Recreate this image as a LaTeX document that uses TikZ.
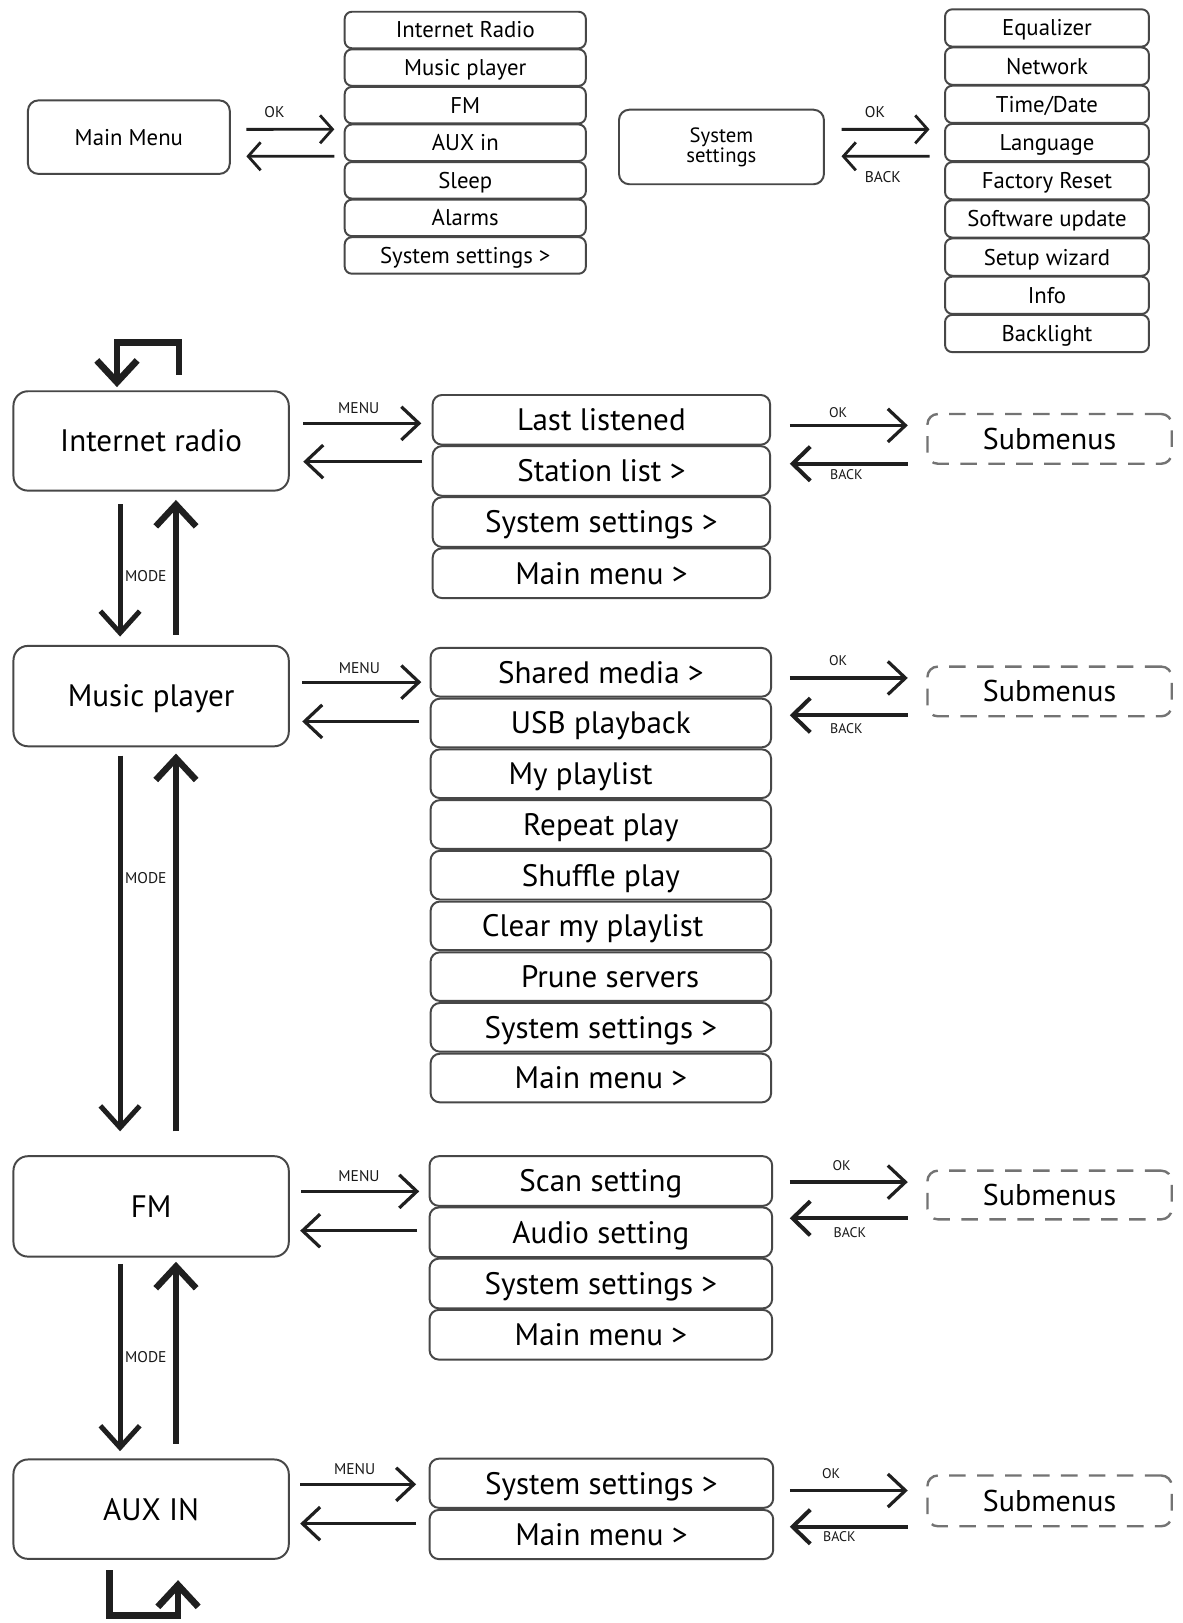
\documentclass[tikz,border=0pt]{standalone}
\usepackage{fontspec}
\setmainfont{PT Sans}
\usetikzlibrary{arrows.meta,calc}
\begin{document}
\begin{tikzpicture}[x=1pt,y=-1pt,
  box/.style={draw=black!72, line width=1.9pt, inner sep=0pt, outer sep=0pt, text=black, align=center},
  mainbox/.style={box, rounded corners=10pt, font=\fontsize{22}{24}\selectfont},
  topitem/.style={box, rounded corners=7pt, minimum height=35.3pt, font=\fontsize{22}{24}\selectfont, text height=15.4pt, text depth=0pt},
  big/.style={box, rounded corners=14pt, minimum width=266pt, font=\fontsize{30}{32}\selectfont, text height=21pt, text depth=0pt},
  row/.style={box, rounded corners=9pt, font=\fontsize{30}{32}\selectfont, text height=21pt, text depth=0pt},
  sub/.style={draw=black!55, dash pattern=on 16pt off 11pt, line width=2.3pt, rounded corners=10pt, minimum width=236pt, inner sep=0pt, outer sep=0pt, font=\fontsize{29}{31}\selectfont, text height=20.3pt, text depth=0pt, text=black},
  lbl/.style={font=\fontsize{15}{16}\selectfont, inner sep=0pt, text height=10.5pt, text depth=0pt, text=black!90},
  lblb/.style={font=\fontsize{13.5}{15}\selectfont, inner sep=0pt, text height=9.45pt, text depth=0pt, text=black!90},
  arrA/.style={draw=black!88, line width=2.7pt, -{Straight Barb[length=12pt,width=27pt]}},
  arrM/.style={draw=black!88, line width=3.1pt, -{Straight Barb[length=17pt,width=32pt]}},
  arrB/.style={draw=black!88, line width=3.9pt, -{Straight Barb[length=17pt,width=33pt]}},
  arrDown/.style={draw=black!88, line width=4.8pt, -{Straight Barb[length=21pt,width=38pt]}},
  arrUp/.style={draw=black!88, line width=6.2pt, -{Straight Barb[length=21pt,width=39pt]}},
  loopA/.style={draw=black!88, line width=6.5pt, line join=miter, -{Straight Barb[length=21pt,width=39pt]}}
]
\fill[white] (0,0) rectangle (1142,1568);
\useasboundingbox (0,0) rectangle (1142,1568);

% ---------------- top section ----------------
\node[mainbox, minimum width=195pt, minimum height=71pt] (mm) at (124.5,132.5) {Main Menu};
\foreach \t [count=\i] in {Internet Radio, Music player, FM, AUX in, Sleep, Alarms, System settings >}
  \node[topitem, minimum width=233pt] (ca\i) at (449.5,{29+36.3*(\i-1)}) {\t};

\node[mainbox, minimum width=198pt, minimum height=72pt, font=\fontsize{20}{17.7}\selectfont] (ss) at (697,142) {System\\settings};
\foreach \t [count=\i] in {Equalizer, Network, Time/Date, Language, Factory Reset, Software update, Setup wizard, Info, Backlight}
  \node[topitem, minimum width=197pt, minimum height=36pt] (cb\i) at (1011.5,{27+36.9*(\i-1)}) {\t};

\draw[arrA] ($(mm.east)+(16,-7.5)$) -- node[lbl, above=10pt, pos=0.32]{OK} ($(ca4.west)+(-10,-13)$);
\draw[arrA] ($(ca4.west)+(-10,13)$) -- ($(mm.east)+(16,18.5)$);
\draw[arrA] ($(ss.east)+(17,-17)$) -- node[lbl, above=10pt, pos=0.38]{OK} ($(cb4.west)+(-15,-12.7)$);
\draw[arrA] ($(cb4.west)+(-15,13.3)$) -- node[lbl, below=13.7pt, pos=0.53]{BACK} ($(ss.east)+(17,9)$);

% ---------------- Internet radio ----------------
\node[big, minimum height=96pt] (ir) at (146,426) {Internet radio};
\foreach \t [count=\i] in {Last listened, Station list >, System settings >, Main menu >}
  \node[row, minimum width=326pt, minimum height=48pt] (ir\i) at (581,{405.6+49.4*(\i-1)}) {\t};
\node[sub, minimum height=48pt] (irs) at (1014,424) {Submenus};

\draw[arrM] ($(ir.east)+(14,-17)$) -- node[lbl, above=7.75pt, pos=0.47]{MENU} ($(ir1.west)+(-11,3.4)$);
\draw[arrM] ($(ir2.west)+(-10,-9)$) -- ($(ir.east)+(14,20)$);
\draw[arrM] ($(ir1.east)+(19,5.4)$) -- node[lblb, above=6.3pt, pos=0.41]{OK} ($(irs.west)+(-19,-13)$);
\draw[arrB] ($(irs.west)+(-19,24)$) -- node[lblb, below=4.3pt, pos=0.52]{BACK} ($(ir2.east)+(19,-7)$);
\draw[loopA] ($(ir.north)+(27,-16)$) |- ($(ir.north)+(-33,-47)$) -- ($(ir.north)+(-33,-4)$);

% ---------------- Music player ----------------
\node[big, minimum height=97pt] (mp) at (146,672.5) {Music player};
\foreach \t [count=\i] in {Shared media >, USB playback, My playlist\kern39pt, Repeat play, Shuffle play, Clear my playlist\kern16pt, \kern18pt Prune servers, System settings >, Main menu >}
  \node[row, minimum width=329pt, minimum height=47pt] (mp\i) at (580.5,{649.5+49*(\i-1)}) {\t};
\node[sub, minimum height=48pt] (mps) at (1014,668) {Submenus};

\draw[arrM] ($(mp.east)+(13,-13.5)$) -- node[lbl, above=6.75pt, pos=0.48]{MENU} ($(mp1.west)+(-9,9.5)$);
\draw[arrM] ($(mp2.west)+(-11,-1.5)$) -- ($(mp.east)+(13,24.5)$);
\draw[arrM] ($(mp1.east)+(18,5.5)$) -- node[lblb, above=10.3pt, pos=0.41]{OK} ($(mps.west)+(-19,-13)$);
\draw[arrB] ($(mps.west)+(-19,23)$) -- node[lblb, below=6.3pt, pos=0.52]{BACK} ($(mp2.east)+(18,-7.5)$);

% ---------------- FM ----------------
\node[big, minimum height=97pt] (fm) at (146,1165.5) {FM};
\foreach \t [count=\i] in {Scan setting, Audio setting, System settings >, Main menu >}
  \node[row, minimum width=331pt, minimum height=48pt] (fm\i) at (580.5,{1141+49.5*(\i-1)}) {\t};
\node[sub, minimum height=47pt] (fms) at (1014,1154.5) {Submenus};

\draw[arrM] ($(fm.east)+(12,-14.5)$) -- node[lbl, above=7.75pt, pos=0.49]{MENU} ($(fm1.west)+(-10,10)$);
\draw[arrM] ($(fm2.west)+(-12,-1.5)$) -- ($(fm.east)+(11,23.5)$);
\draw[arrM] ($(fm1.east)+(17,1)$) -- node[lblb, above=9.3pt, pos=0.44]{OK} ($(fms.west)+(-19,-12.5)$);
\draw[arrB] ($(fms.west)+(-19,22.5)$) -- node[lblb, below=7.3pt, pos=0.49]{BACK} ($(fm2.east)+(17,-13.5)$);

% ---------------- AUX IN ----------------
\node[big, minimum height=96pt] (aux) at (146,1458) {AUX IN};
\foreach \t [count=\i] in {System settings >, Main menu >}
  \node[row, minimum width=332pt, minimum height=47.5pt] (aux\i) at (581,{1433+49.5*(\i-1)}) {\t};
\node[sub, minimum height=49pt] (auxs) at (1014,1450) {Submenus};

\draw[arrM] ($(aux.east)+(11,-24)$) -- node[lbl, above=7.75pt, pos=0.47]{MENU} ($(aux1.west)+(-13,1)$);
\draw[arrM] ($(aux2.west)+(-13,-10.5)$) -- ($(aux.east)+(11,14)$);
\draw[arrM] ($(aux1.east)+(16,7)$) -- node[lblb, above=10.3pt, pos=0.35]{OK} ($(auxs.west)+(-19,-10)$);
\draw[arrB] ($(auxs.west)+(-19,25)$) -- node[lblb, below=3.3pt, pos=0.58]{BACK} ($(aux2.east)+(16,-7.5)$);
\draw[loopA] ($(aux.south)+(-40.5,11)$) |- ($(aux.south)+(26,54.5)$) -- ($(aux.south)+(26,20.6)$);

% ---------------- MODE arrows ----------------
\draw[arrDown] ($(ir.south)+(-30,13)$) -- node[lbl, right=2.5pt, pos=0.547]{MODE} ($(mp.north)+(-30,-9)$);
\draw[arrUp] ($(mp.north)+(24,-11)$) -- ($(ir.south)+(24,9)$);
\draw[arrDown] ($(mp.south)+(-30,9)$) -- node[lbl, right=2.5pt, pos=0.325]{MODE} ($(fm.north)+(-30,-24)$);
\draw[arrUp] ($(fm.north)+(24,-24)$) -- ($(mp.south)+(24,7)$);
\draw[arrDown] ($(fm.south)+(-30,7)$) -- node[lbl, right=2.5pt, pos=0.497]{MODE} ($(aux.north)+(-30,-8)$);
\draw[arrUp] ($(aux.north)+(24,-15)$) -- ($(fm.south)+(24,5)$);
\end{tikzpicture}
\end{document}
